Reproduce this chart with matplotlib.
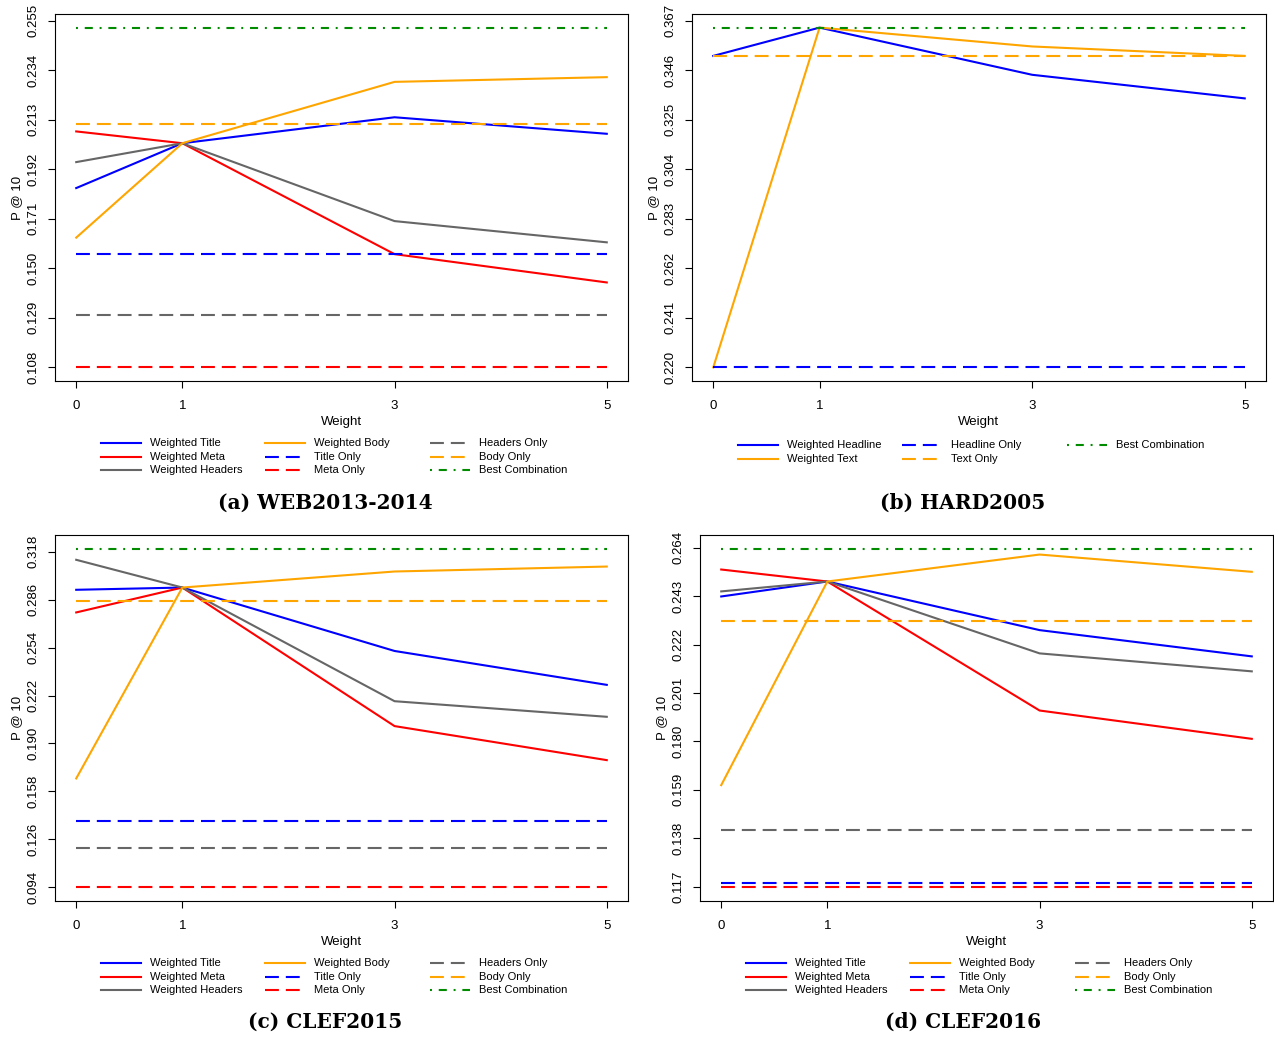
import matplotlib
matplotlib.use("Agg")
import matplotlib.pyplot as plt
from matplotlib.lines import Line2D

plt.rcParams['font.family'] = ['Liberation Sans', 'DejaVu Sans']
plt.rcParams['lines.scale_dashes'] = False

# --- Daten ---
weights = [0, 1, 3, 5]
weight_labels = ['0', '1', '3', '5']

# (a) WEB2013-2014
web_title = [0.184, 0.203, 0.214, 0.207]
web_meta = [0.208, 0.203, 0.156, 0.144]
web_headers = [0.195, 0.203, 0.170, 0.161]
web_body = [0.163, 0.203, 0.229, 0.231]
web_title_only = 0.156
web_meta_only = 0.108
web_headers_only = 0.130
web_body_only = 0.211
web_best = 0.252
web_yticks = ['0.108', '0.129', '0.150', '0.171', '0.192', '0.213', '0.234', '0.255']

# (b) HARD2005
hard_headline = [0.352, 0.364, 0.344, 0.334]
hard_text = [0.220, 0.364, 0.356, 0.352]
hard_headline_only = 0.220
hard_text_only = 0.352
hard_best = 0.364
hard_yticks = ['0.220', '0.241', '0.262', '0.283', '0.304', '0.325', '0.346', '0.367']

# (c) CLEF2015
c15_title = [0.2925, 0.294, 0.2517, 0.2291]
c15_meta = [0.2774, 0.294, 0.2016, 0.1789]
c15_headers = [0.3125, 0.294, 0.2182, 0.2078]
c15_body = [0.1667, 0.294, 0.3047, 0.308]
c15_title_only = 0.1381
c15_meta_only = 0.094
c15_headers_only = 0.120
c15_body_only = 0.2852
c15_best = 0.320
c15_yticks = ['0.094', '0.126', '0.158', '0.190', '0.222', '0.254', '0.286', '0.318']

# (d) CLEF2016
c16_title = [0.2429, 0.2494, 0.2283, 0.2169]
c16_meta = [0.2546, 0.2494, 0.1934, 0.1811]
c16_headers = [0.2451, 0.2494, 0.2182, 0.2104]
c16_body = [0.161, 0.2494, 0.2611, 0.2536]
c16_title_only = 0.1184
c16_meta_only = 0.1166
c16_headers_only = 0.1417
c16_body_only = 0.2324
c16_best = 0.2637
c16_yticks = ['0.117', '0.138', '0.159', '0.180', '0.201', '0.222', '0.243', '0.264']

# --- Stil ---
BLUE = '#0000FF'
RED = '#FF0000'
GRAY = '#666666'
ORANGE = '#FFA500'
GREEN = '#008B00'
SOLID = '-'
DASH = (0, (10, 5))
DOTDASH = (0, (1.4, 4.9, 5.8, 4.9))
LW = 1.5

W, H = 1274, 1037
fig = plt.figure(figsize=(W / 100, H / 100), dpi=100)


def draw_panel(box, solid, flat, best, yticks, legend_cols, caption, cap_xy):
    left, top, right, bottom = box
    ax = fig.add_axes([left / W, 1 - bottom / H, (right - left) / W, (bottom - top) / H])

    all_vals = [best]
    for label, vals, color in solid:
        ax.plot(weights, vals, color=color, lw=LW, linestyle=SOLID)
        all_vals += vals
    for label, val, color in flat:
        ax.hlines(val, weights[0], weights[-1], colors=color, lw=LW, linestyles=[DASH])
        all_vals.append(val)
    ax.hlines(best, weights[0], weights[-1], colors=GREEN, lw=LW, linestyles=[DOTDASH])

    # R-Standard: 4 % Rand um den Datenbereich
    lo, hi = min(all_vals), max(all_vals)
    r = hi - lo
    ax.set_ylim(lo - 0.04 * r, hi + 0.04 * r)
    ax.set_xlim(weights[0] - 0.04 * 5, weights[-1] + 0.04 * 5)

    ax.set_xticks(weights)
    ax.set_xticklabels(weight_labels)
    ax.set_yticks([float(t) for t in yticks])
    ax.set_yticklabels(yticks, rotation=90, va='center')
    ax.tick_params(axis='both', direction='out', length=5, width=0.8, labelsize=9.5, colors='black')
    ax.tick_params(axis='x', pad=8.5)
    ax.tick_params(axis='y', pad=6)
    for s in ax.spines.values():
        s.set_linewidth(0.8)
        s.set_color('black')

    ax.set_xlabel('Weight', fontsize=9.5, labelpad=3)
    ax.set_ylabel('P @ 10', fontsize=9.5, labelpad=3)

    # Legende (R-Stil, spaltenweise)
    nrows = max(len(c) for c in legend_cols)
    rows = [62, 75.5, 89] if nrows == 3 else [64, 78]
    col_off = [46, 210, 375]
    for ci, col in enumerate(legend_cols):
        for ri, (label, color, ls) in enumerate(col):
            x0 = left + col_off[ci]
            y = bottom + rows[ri]
            fig.add_artist(Line2D([x0 / W, (x0 + 40) / W], [1 - y / H, 1 - y / H],
                                  transform=fig.transFigure, color=color, lw=LW, linestyle=ls))
            fig.text((x0 + 49) / W, 1 - y / H, label, ha='left', va='center', fontsize=8)

    fig.text(cap_xy[0] / W, 1 - cap_xy[1] / H, caption, ha='center', va='center',
             fontfamily='DejaVu Serif', fontweight='bold', fontsize=14.5)
    return ax


std_legend = lambda: [
    [('Weighted Title', BLUE, SOLID), ('Weighted Meta', RED, SOLID), ('Weighted Headers', GRAY, SOLID)],
    [('Weighted Body', ORANGE, SOLID), ('Title Only', BLUE, DASH), ('Meta Only', RED, DASH)],
    [('Headers Only', GRAY, DASH), ('Body Only', ORANGE, DASH), ('Best Combination', GREEN, DOTDASH)],
]

draw_panel((55, 14, 628, 381),
           [('Weighted Title', web_title, BLUE), ('Weighted Meta', web_meta, RED),
            ('Weighted Headers', web_headers, GRAY), ('Weighted Body', web_body, ORANGE)],
           [('Title Only', web_title_only, BLUE), ('Meta Only', web_meta_only, RED),
            ('Headers Only', web_headers_only, GRAY), ('Body Only', web_body_only, ORANGE)],
           web_best, web_yticks, std_legend(), '(a) WEB2013-2014', (325, 503))

draw_panel((692, 14, 1266, 381),
           [('Weighted Headline', hard_headline, BLUE), ('Weighted Text', hard_text, ORANGE)],
           [('Headline Only', hard_headline_only, BLUE), ('Text Only', hard_text_only, ORANGE)],
           hard_best, hard_yticks,
           [[('Weighted Headline', BLUE, SOLID), ('Weighted Text', ORANGE, SOLID)],
            [('Headline Only', BLUE, DASH), ('Text Only', ORANGE, DASH)],
            [('Best Combination', GREEN, DOTDASH)]],
           '(b) HARD2005', (963, 503))

draw_panel((55, 535, 628, 901),
           [('Weighted Title', c15_title, BLUE), ('Weighted Meta', c15_meta, RED),
            ('Weighted Headers', c15_headers, GRAY), ('Weighted Body', c15_body, ORANGE)],
           [('Title Only', c15_title_only, BLUE), ('Meta Only', c15_meta_only, RED),
            ('Headers Only', c15_headers_only, GRAY), ('Body Only', c15_body_only, ORANGE)],
           c15_best, c15_yticks, std_legend(), '(c) CLEF2015', (325, 1022))

draw_panel((700, 535, 1273, 901),
           [('Weighted Title', c16_title, BLUE), ('Weighted Meta', c16_meta, RED),
            ('Weighted Headers', c16_headers, GRAY), ('Weighted Body', c16_body, ORANGE)],
           [('Title Only', c16_title_only, BLUE), ('Meta Only', c16_meta_only, RED),
            ('Headers Only', c16_headers_only, GRAY), ('Body Only', c16_body_only, ORANGE)],
           c16_best, c16_yticks, std_legend(), '(d) CLEF2016', (963, 1022))

fig.savefig('out.png', dpi=100)
